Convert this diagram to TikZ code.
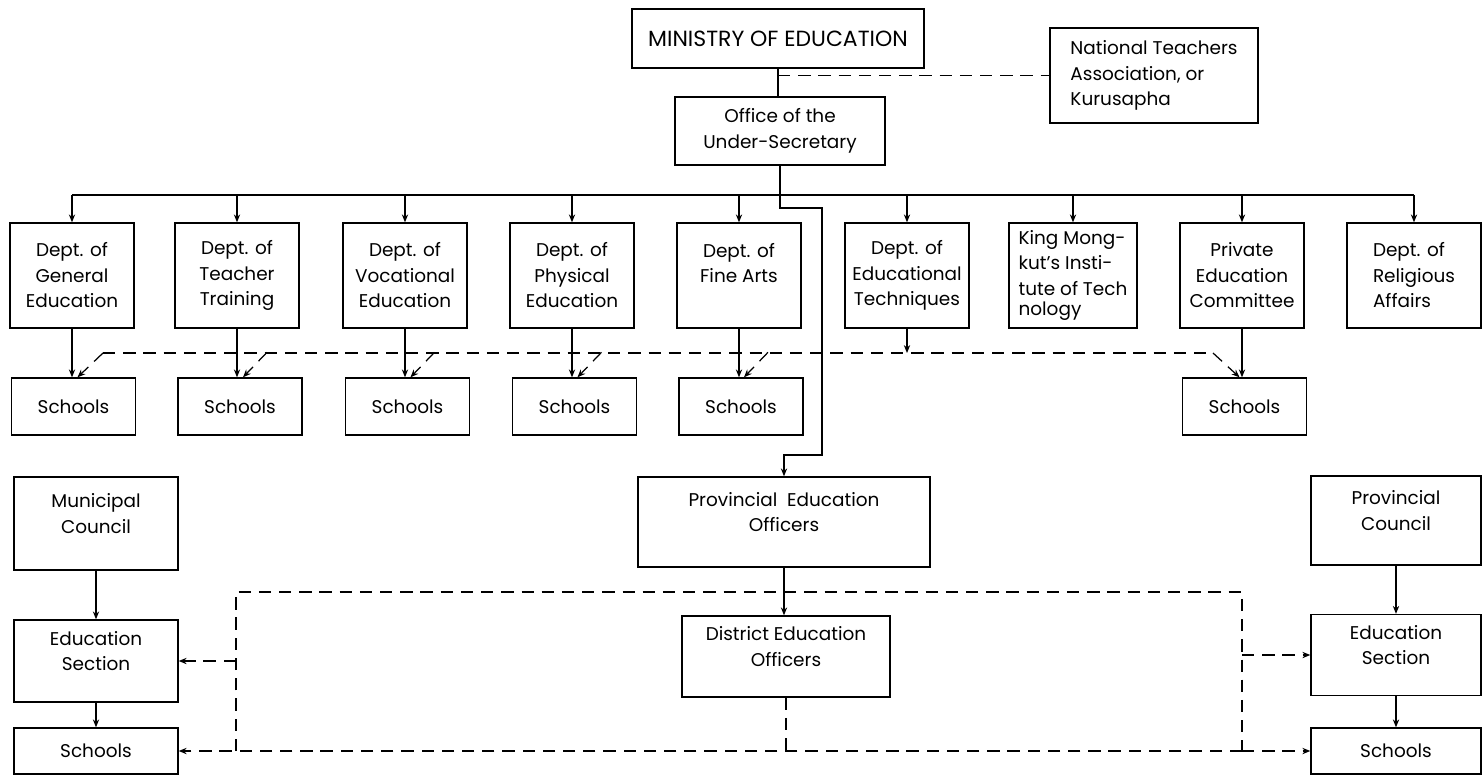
\documentclass[tikz,border=0pt]{standalone}
\usepackage{fontspec}
\setmainfont{Poppins}
\usetikzlibrary{arrows.meta}
\usetikzlibrary{calc}

\begin{document}
\begin{tikzpicture}[x=0.02cm,y=-0.02cm,>={Stealth[length=4.5pt,width=3.6pt]},
  box/.style={draw,line width=0.8pt,align=center,inner sep=2pt,font=\fontsize{10.5}{14.5}\selectfont},
  dept/.style={box,minimum width=2.48cm,minimum height=2.1cm},
  school/.style={box,minimum width=2.48cm,minimum height=1.14cm},
  link/.style={line width=0.6pt},
  dlink/.style={line width=0.7pt,dash pattern=on 7pt off 4.5pt}]
\useasboundingbox (0,0) rectangle (1482,778);

\node[box,minimum width=5.84cm,minimum height=1.18cm,font=\fontsize{12.5}{15}\selectfont] (ministry) at (778,38.5) {MINISTRY OF EDUCATION};
\node[box,align=left,minimum width=4.16cm,minimum height=1.9cm] (nta) at (1154,75.5) {National Teachers\\Association, or\\Kurusapha};
\node[box,minimum width=4.2cm,minimum height=1.36cm] (office) at (780,131) {Office of the\\Under-Secretary};

\node[dept] (gen) at (72,275.5) {Dept. of\\General\\Education};
\node[dept] (tt) at (237,275.5) {Dept. of\\Teacher\\Training};
\node[dept] (voc) at (405,275.5) {Dept. of\\Vocational\\Education};
\node[dept] (phys) at (572,275.5) {Dept. of\\Physical\\Education};
\node[dept] (fine) at (739,275.5) {Dept. of\\Fine Arts\\\mbox{}};
\node[dept] (tech) at (907,275.5) {Dept. of\\Educational\\Techniques};
\node[dept,align=left,minimum width=2.56cm] (kmit) at (1073,275.5) {King Mong-\\kut's Insti-\\tute of Tech\\[-3pt]nology};
\node[dept] (priv) at (1242,275.5) {Private\\Education\\Committee};
\node[dept,align=left,minimum width=2.68cm] (relig) at (1414,275.5) {Dept. of\\Religious\\Affairs};

\node[school] (sgen) at (73.5,406.5) {Schools};
\node[school] (stt) at (240,406.5) {Schools};
\node[school] (svoc) at (407.5,406.5) {Schools};
\node[school] (sphys) at (574.5,406.5) {Schools};
\node[school] (sfine) at (741,406.5) {Schools};
\node[school] (spriv) at (1244.5,406.5) {Schools};

\node[box,minimum width=3.28cm,minimum height=1.86cm] (muni) at (96,523.5) {Municipal\\Council\\[-3pt]\mbox{}};
\node[box,minimum width=3.28cm,minimum height=1.64cm] (secl) at (96,661) {Education\\Section\\[-3pt]\mbox{}};
\node[box,minimum width=3.28cm,minimum height=0.92cm] (schl) at (96,751) {Schools};
\node[box,minimum width=5.84cm,minimum height=1.8cm] (peo) at (784,522) {Provincial\ \ Education\\Officers\\[-3pt]\mbox{}};
\node[box,minimum width=4.16cm,minimum height=1.62cm] (deo) at (786,656.5) {District Education\\Officers\\[-3pt]\mbox{}};
\node[box,minimum width=3.4cm,minimum height=1.78cm] (prov) at (1396,520.5) {Provincial\\Council\\[-3pt]\mbox{}};
\node[box,minimum width=3.4cm,minimum height=1.62cm] (secr) at (1396,655) {Education\\Section\\[-3pt]\mbox{}};
\node[box,minimum width=3.4cm,minimum height=0.92cm] (schr) at (1396,751) {Schools};

\draw[link] (ministry.south) -- (ministry.south |- office.north);
\draw[dlink] (ministry.south |- nta.west) -- (nta.west);

\coordinate (bus) at (780,195);
\draw[link] (office.south) -- (bus);
\draw[link] (bus -| gen.north) -- (bus -| relig.north);
\foreach \d in {gen,tt,voc,phys,fine,tech,kmit,priv,relig}
  \draw[link,->] (bus -| \d.north) -- (\d.north);
\foreach \d/\s in {gen/sgen,tt/stt,voc/svoc,phys/sphys,fine/sfine,priv/spriv}
  \draw[link,->] (\d.south) -- (\d.south |- \s.north);

\coordinate (dl) at (103,353);
\coordinate (dr) at (1213,353);
\draw[link,->] (tech.south) -- (tech.south |- dl);
\draw[dlink] (dl) -- (dr);
\draw[dlink,->] (dl) -- ($(sgen.north)+(4,0)$);
\draw[dlink,->] (dr) -- ($(spriv.north)+(-5,0)$);
\foreach \s in {stt,svoc,sphys,sfine}
  \draw[dlink,->] ($(\s.north)+(27,-25)$) -- ($(\s.north)+(3,0)$);

\coordinate (jogA) at (822,208);
\coordinate (jogB) at (822,455);
\draw[link,->] (bus) |- (jogA) -- (jogB) -| (peo.north);

\draw[link,->] (muni.south) -- (secl.north);
\draw[link,->] (secl.south) -- (schl.north);
\draw[link,->] (prov.south) -- (secr.north);
\draw[link,->] (secr.south) -- (schr.north);
\draw[link,->] (peo.south) -- (peo.south |- deo.north);

\coordinate (ftl) at (236,592);
\coordinate (ftr) at (1242,592);
\draw[dlink] (ftl |- schl.east) -- (ftl) -- (ftr) -- (ftr |- schr.west);
\draw[dlink,->] (ftr |- schl.east) -- (schl.east);
\draw[dlink,->] (ftr |- schr.west) -- (schr.west);
\draw[dlink,->] (ftl |- secl.east) -- (secl.east);
\draw[dlink,->] (ftr |- secr.west) -- (secr.west);
\draw[dlink] (deo.south) -- (deo.south |- schl.east);
\end{tikzpicture}
\end{document}
